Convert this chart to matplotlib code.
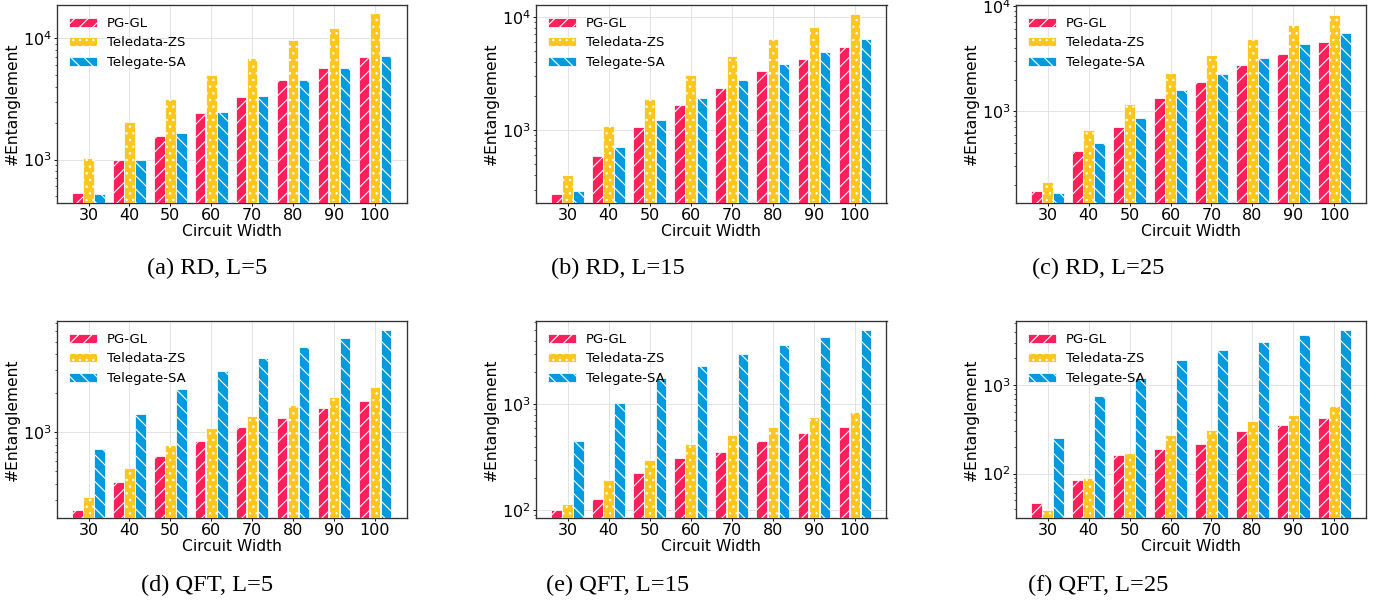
import numpy as np
import matplotlib.pyplot as plt

# circuit widths on the x axis
widths = [30, 40, 50, 60, 70, 80, 90, 100]
methods = ['PG-GL', 'Teledata-ZS', 'Telegate-SA']
colors = ['#FF1F5B', '#FFC61E', '#009ADE']
hatches = ['//', '..', '\\\\']

# RD benchmarks
rd5_pggl = [530, 990, 1560, 2400, 3300, 4500, 5690, 7050]
rd5_zs = [1025, 2020, 3130, 4980, 6870, 9690, 12250, 16070]
rd5_sa = [524, 990, 1640, 2480, 3360, 4500, 5690, 7140]

rd15_pggl = [274, 594, 1077, 1673, 2363, 3316, 4230, 5400]
rd15_zs = [401, 1092, 1890, 3077, 4495, 6350, 8110, 10630]
rd15_sa = [294, 717, 1234, 1927, 2797, 3843, 4909, 6310]

rd25_pggl = [175, 416, 714, 1330, 1880, 2732, 3523, 4580]
rd25_zs = [210, 662, 1162, 2333, 3420, 4907, 6625, 8290]
rd25_sa = [165, 498, 855, 1604, 2264, 3222, 4318, 5530]

# QFT benchmarks
qft5_pggl = [250, 417, 661, 858, 1106, 1290, 1541, 1745]
qft5_zs = [316, 534, 794, 1086, 1336, 1615, 1883, 2238]
qft5_sa = [740, 1393, 2159, 2972, 3743, 4577, 5310, 6200]

qft15_pggl = [100, 128, 225, 312, 355, 448, 540, 616]
qft15_zs = [115, 192, 298, 420, 510, 607, 754, 841]
qft15_sa = [451, 1022, 1758, 2280, 3003, 3655, 4318, 4985]

qft25_pggl = [46.7, 85.6, 162, 188, 216, 303, 357, 424]
qft25_zs = [38.6, 89.4, 171, 275, 308, 389, 455, 574]
qft25_sa = [254, 752, 1189, 1897, 2460, 3030, 3700, 4207]

captions = ['(a) RD, L=5', '(b) RD, L=15', '(c) RD, L=25',
            '(d) QFT, L=5', '(e) QFT, L=15', '(f) QFT, L=25']

panels = [
    (rd5_pggl, rd5_zs, rd5_sa),
    (rd15_pggl, rd15_zs, rd15_sa),
    (rd25_pggl, rd25_zs, rd25_sa),
    (qft5_pggl, qft5_zs, qft5_sa),
    (qft15_pggl, qft15_zs, qft15_sa),
    (qft25_pggl, qft25_zs, qft25_sa),
]
ylims = [(438, 18800), (229, 12680), (134, 10230),
         (218, 7230), (84.7, 6110), (31.6, 5270)]

W, H, DPI = 1387, 606, 80
pt = 72 / DPI  # pixels -> points

# axes boxes in pixels: left, right, top, bottom
cols = [(57, 406.5), (536, 886.5), (1016, 1366)]
rows = [(5, 203), (321, 518)]
cap_x = [207, 618, 1098]
cap_y = [268, 585]

plt.rcParams['hatch.linewidth'] = 1.0

fig = plt.figure(figsize=(W / DPI, H / DPI), dpi=DPI)

x = np.arange(len(widths))
bw = 0.255
offs = [-0.27, 0, 0.27]

for i, (data, ylim) in enumerate(zip(panels, ylims)):
    r, c = divmod(i, 3)
    x0, x1 = cols[c]
    y0, y1 = rows[r]
    ax = fig.add_axes([x0 / W, 1 - y1 / H, (x1 - x0) / W, (y1 - y0) / H])
    for vals, name, col, hat, off in zip(data, methods, colors, hatches, offs):
        ax.bar(x + off, vals, bw, color=col, edgecolor='white', hatch=hat,
               linewidth=0.7, label=name, zorder=3)
    ax.set_yscale('log')
    ax.set_ylim(*ylim)
    ax.set_xlim(-0.77, 7.77)
    ax.set_xticks(x)
    ax.set_xticklabels(widths)
    ax.set_axisbelow(True)
    ax.grid(True, which='major', color='#dddddd', linewidth=0.9, alpha=0.8)
    ax.tick_params(axis='both', which='major', labelsize=16 * pt,
                   length=2.5, pad=2)
    ax.tick_params(axis='y', which='minor', length=1.5)
    for s in ax.spines.values():
        s.set_color('#333333')
        s.set_linewidth(1.2)
    ax.set_xlabel('Circuit Width', fontsize=15.5 * pt, labelpad=1)
    ax.set_ylabel('#Entanglement', fontsize=15.5 * pt, labelpad=3)
    ax.legend(loc='upper left', frameon=False, fontsize=13.2 * pt,
              handlelength=2.1, labelspacing=0.5)
    fig.text(cap_x[c] / W, 1 - cap_y[r] / H, captions[i], ha='center',
             va='center', family='Liberation Serif', fontsize=24.4 * pt)

fig.savefig('out.png', dpi=DPI)
